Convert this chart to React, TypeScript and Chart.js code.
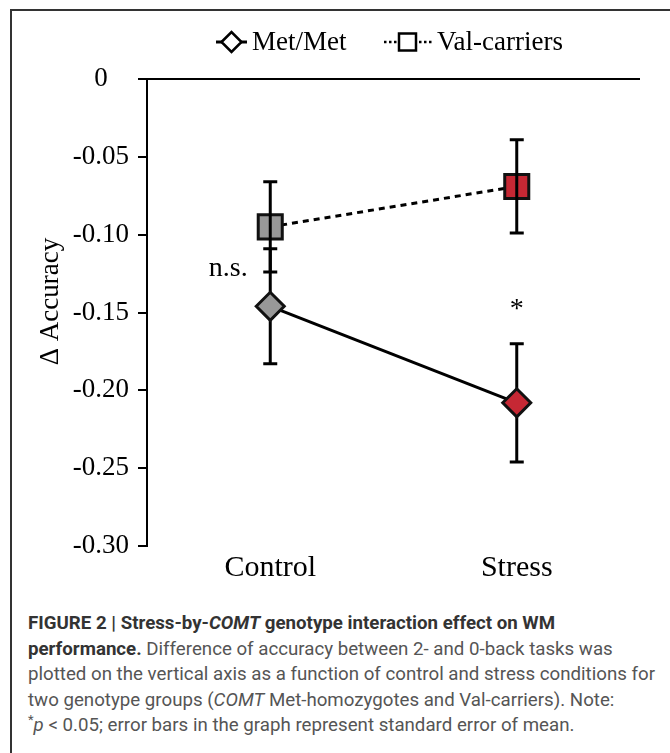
import React, { useEffect, useRef } from 'react';
import { Chart, registerables } from 'chart.js';

Chart.register(...registerables);

const categories = ['Control', 'Stress'];
const seriesNames = ['Met/Met', 'Val-carriers'];
const metMean = [-0.146, -0.208];
const metSE = [0.037, 0.038];
const valMean = [-0.095, -0.069];
const valSE = [0.029, 0.03];
const pointColors = ['#989898', '#C62834'];
const yTicks = [0, -0.05, -0.1, -0.15, -0.2, -0.25, -0.3];
const yTickLabels = ['0', '-0.05', '-0.10', '-0.15', '-0.20', '-0.25', '-0.30'];
const yAxisTitle = 'Δ Accuracy';
const annotations = [
  { text: 'n.s.', cat: 0, value: -0.122, dx: -42 },
  { text: '*', cat: 1, value: -0.148, dx: 0 },
];

const SERIF = '"Liberation Serif", "Times New Roman", serif';

function drawErrorBars(chart: any, means: number[], ses: number[]) {
  const ctx = chart.ctx;
  const x = chart.scales.x;
  const y = chart.scales.y;
  ctx.save();
  ctx.strokeStyle = '#000';
  ctx.lineWidth = 3;
  means.forEach((m, i) => {
    const px = x.getPixelForValue(i);
    const top = y.getPixelForValue(m + ses[i]);
    const bot = y.getPixelForValue(m - ses[i]);
    ctx.beginPath();
    ctx.moveTo(px, top);
    ctx.lineTo(px, bot);
    ctx.moveTo(px - 7, top);
    ctx.lineTo(px + 7, top);
    ctx.moveTo(px - 7, bot);
    ctx.lineTo(px + 7, bot);
    ctx.stroke();
  });
  ctx.restore();
}

const errorBarPlugin = {
  id: 'errorBars',
  beforeDatasetDraw(chart: any, args: any) {
    if (args.index === 0) drawErrorBars(chart, metMean, metSE);
  },
  afterDatasetDraw(chart: any, args: any) {
    if (args.index === 1) drawErrorBars(chart, valMean, valSE);
  },
};

const legendAndNotesPlugin = {
  id: 'legendNotes',
  afterDraw(chart: any) {
    const ctx = chart.ctx;
    const x = chart.scales.x;
    const y = chart.scales.y;
    ctx.save();
    // legend
    const ly = 42;
    ctx.strokeStyle = '#000';
    ctx.lineWidth = 3;
    ctx.beginPath();
    ctx.moveTo(216, ly);
    ctx.lineTo(247, ly);
    ctx.stroke();
    ctx.beginPath();
    ctx.moveTo(231.5 - 10, ly);
    ctx.lineTo(231.5, ly - 10);
    ctx.lineTo(231.5 + 10, ly);
    ctx.lineTo(231.5, ly + 10);
    ctx.closePath();
    ctx.fillStyle = '#fff';
    ctx.fill();
    ctx.lineWidth = 2.5;
    ctx.stroke();

    ctx.setLineDash([2.5, 2.5]);
    ctx.lineWidth = 2.5;
    ctx.beginPath();
    ctx.moveTo(384, ly);
    ctx.lineTo(432, ly);
    ctx.stroke();
    ctx.setLineDash([]);
    ctx.fillStyle = '#fff';
    ctx.fillRect(399, ly - 8.5, 17, 17);
    ctx.strokeRect(399, ly - 8.5, 17, 17);

    ctx.fillStyle = '#000';
    ctx.font = `27px ${SERIF}`;
    ctx.textBaseline = 'middle';
    ctx.textAlign = 'left';
    ctx.fillText(seriesNames[0], 252, ly + 1);
    ctx.fillText(seriesNames[1], 437, ly + 1);

    // y axis title
    ctx.save();
    ctx.translate(51, (y.top + y.bottom) / 2 - 11);
    ctx.rotate(-Math.PI / 2);
    ctx.textAlign = 'center';
    ctx.font = `27px ${SERIF}`;
    ctx.fillText(yAxisTitle, 0, 0);
    ctx.restore();

    // annotations
    ctx.textAlign = 'center';
    annotations.forEach((a) => {
      ctx.font = `28px ${SERIF}`;
      ctx.fillText(a.text, x.getPixelForValue(a.cat) + a.dx, y.getPixelForValue(a.value));
    });
    ctx.restore();
  },
};

export default function App() {
  const ref = useRef<HTMLCanvasElement>(null);

  useEffect(() => {
    if (!ref.current) return;
    const chart = new Chart(ref.current, {
      type: 'line',
      data: {
        labels: categories,
        datasets: [
          {
            label: seriesNames[0],
            data: metMean,
            borderColor: '#000',
            borderWidth: 3,
            pointStyle: 'rectRot',
            pointRadius: 14,
            pointBorderWidth: 3,
            pointBackgroundColor: pointColors,
            pointBorderColor: '#111',
            fill: false,
          },
          {
            label: seriesNames[1],
            data: valMean,
            borderColor: '#000',
            borderWidth: 3,
            borderDash: [6, 5],
            pointStyle: 'rect',
            pointRadius: 17,
            pointBorderWidth: 3,
            pointBackgroundColor: pointColors,
            pointBorderColor: '#111',
            fill: false,
          },
        ],
      },
      options: {
        responsive: false,
        animation: false,
        devicePixelRatio: 1,
        layout: { padding: { left: 20, right: 30, top: 79, bottom: 0 } },
        plugins: {
          legend: { display: false },
          tooltip: { enabled: false },
        },
        scales: {
          x: {
            type: 'category',
            offset: true,
            grid: { display: false, drawTicks: false },
            border: { display: false },
            ticks: {
              color: '#000',
              font: { family: SERIF, size: 30 },
              padding: 4,
              maxRotation: 0,
            },
            afterFit: (s: any) => {
              s.height = 54;
            },
          },
          y: {
            type: 'linear',
            min: -0.3,
            max: 0,
            afterBuildTicks: (s: any) => {
              s.ticks = yTicks.map((v) => ({ value: v }));
            },
            afterFit: (s: any) => {
              s.width = 127;
            },
            border: { display: true, color: '#000', width: 2 },
            grid: {
              drawTicks: true,
              tickLength: 9,
              tickColor: '#000',
              tickWidth: 2,
              lineWidth: 2,
              color: (c: any) => (c.tick && c.tick.value === 0 ? '#000' : 'rgba(0,0,0,0)'),
            },
            ticks: {
              color: '#000',
              font: { family: SERIF, size: 27 },
              padding: 9,
              crossAlign: 'center',
              callback: (v: any) => {
                const i = yTicks.findIndex((t) => Math.abs(t - Number(v)) < 1e-9);
                return i >= 0 ? yTickLabels[i] : '';
              },
            },
            title: { display: false },
          },
        },
      },
      plugins: [errorBarPlugin, legendAndNotesPlugin],
    });
    return () => chart.destroy();
  }, []);

  return (
    <div style={{ position: 'absolute', left: 0, top: 0, width: 670, height: 753, background: '#fff', overflow: 'hidden' }}>
      <div
        style={{
          position: 'absolute',
          left: 10,
          top: 9,
          right: -4,
          bottom: -4,
          borderLeft: '2px solid #333',
          borderTop: '2px solid #333',
        }}
      />
      <canvas ref={ref} width={670} height={600} style={{ position: 'absolute', left: 0, top: 0, width: 670, height: 600 }} />
      <div
        style={{
          position: 'absolute',
          left: 28,
          top: 611,
          whiteSpace: 'nowrap',
          fontFamily: 'Roboto, "Liberation Sans", sans-serif',
          fontSize: 18.7,
          lineHeight: '25.5px',
          color: '#555',
        }}
      >
        <b style={{ color: '#333' }}>
          FIGURE 2 | Stress-by-<i>COMT</i> genotype interaction effect on WM
          <br />
          performance.
        </b>{' '}
        Difference of accuracy between 2- and 0-back tasks was
        <br />
        plotted on the vertical axis as a function of control and stress conditions for
        <br />
        two genotype groups (<i>COMT</i> Met-homozygotes and Val-carriers). Note:
        <br />
        <sup style={{ fontSize: 13, lineHeight: 0 }}>*</sup>
        <i>p</i> &lt; 0.05; error bars in the graph represent standard error of mean.
      </div>
    </div>
  );
}
